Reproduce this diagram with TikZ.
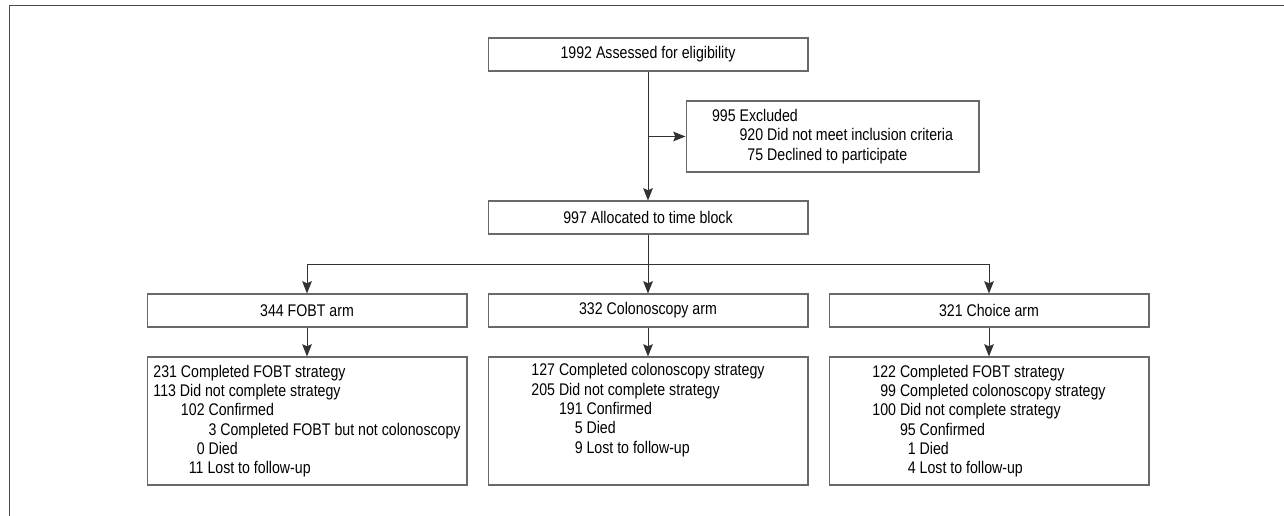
\documentclass[tikz,border=0pt]{standalone}
\usepackage{fontspec}
\setmainfont{Liberation Sans}[FakeStretch=0.84]
\usetikzlibrary{arrows.meta}
\definecolor{linegray}{RGB}{50, 50, 50}
\definecolor{boxgray}{RGB}{105, 105, 105}
\newcommand{\ind}{\phantom{000}\ }

\begin{document}
\begin{tikzpicture}[x = 0.02cm, y = -0.02cm,
	cbox/.style = {draw = boxgray, line width = 0.6pt, text = black, font = \fontsize{9.6}{11}\selectfont, minimum width = 6.4cm, minimum height = 0.66cm, inner sep = 0pt},
	res/.style = {cbox, minimum height = 2.56cm, align = left},
	flow/.style = {draw = linegray, line width = 0.55pt, -{Stealth[length = 7pt, width = 5.5pt, inset = 1.2pt]}}]
	\useasboundingbox (0, 0) rectangle (1284, 516);
	\draw[black!70, line width = 1.1pt] (1284, 5.5) -- (9.5, 5.5) -- (9.5, 516);
	\node[cbox] (assess) at (648, 54.5) {1992 Assessed for eligibility};
	\node[cbox, minimum width = 5.86cm, minimum height = 1.42cm, align = left] (excl) at (832.5, 136.5) {995 Excluded\\ \ind 920 Did not meet inclusion criteria\\ \ind\phantom{0}75 Declined to participate};
	\node[cbox] (alloc) at (648, 217.5) {997 Allocated to time block};
	\node[cbox] (fobt) at (307, 310.5) {344 FOBT arm};
	\node[cbox] (colo) at (648, 310.5) {332 Colonoscopy arm};
	\node[cbox] (choice) at (989, 310.5) {321 Choice arm};
	\node[res] (fobtres) at (307, 421) {231 Completed FOBT strategy\\ 113 Did not complete strategy\\ \ind 102 Confirmed\\ \ind\ind 3 Completed FOBT but not colonoscopy\\ \ind\phantom{00}0 Died\\ \ind\phantom{0}11 Lost to follow-up};
	\node[res] (colores) at (648, 421) {127 Completed colonoscopy strategy\\ 205 Did not complete strategy\\ \ind 191 Confirmed\\ \ind\phantom{00}5 Died\\ \ind\phantom{00}9 Lost to follow-up\\ \strut};
	\node[res] (choiceres) at (989, 421) {122 Completed FOBT strategy\\ \phantom{0}99 Completed colonoscopy strategy\\ 100 Did not complete strategy\\ \ind 95 Confirmed\\ \ind\phantom{0}1 Died\\ \ind\phantom{0}4 Lost to follow-up};
	\coordinate (split) at (assess.south |- excl.west);
	\coordinate (bus) at (648, 264);
	\draw[flow] (assess) -- (alloc);
	\draw[flow] (split) -- (excl);
	\draw[linegray, line width = 0.55pt] (alloc) -- (bus);
	\draw[flow] (bus) -| (fobt);
	\draw[flow] (bus) -- (colo);
	\draw[flow] (bus) -| (choice);
	\draw[flow] (fobt) -- (fobtres);
	\draw[flow] (colo) -- (colores);
	\draw[flow] (choice) -- (choiceres);
\end{tikzpicture}
\end{document}
